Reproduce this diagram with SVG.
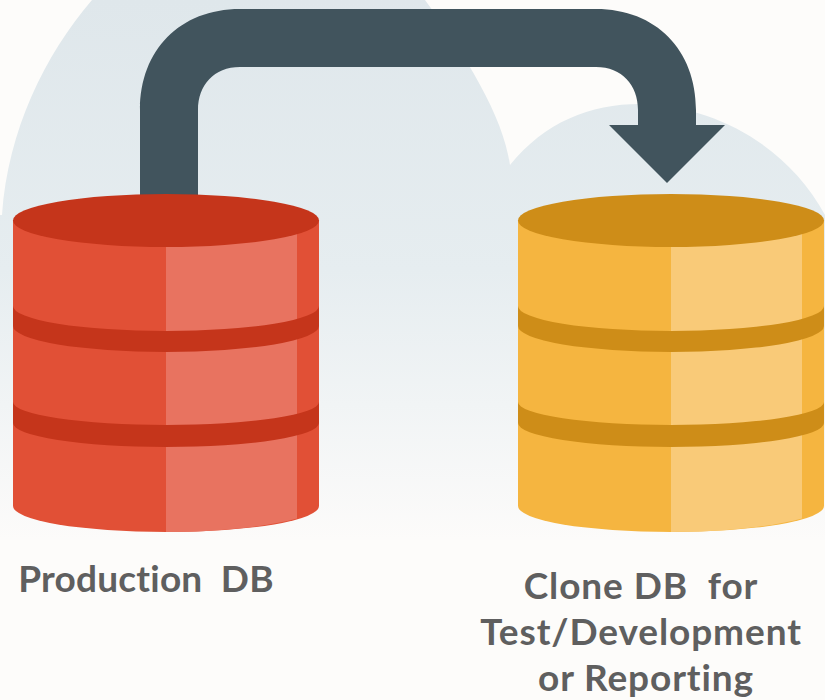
<svg xmlns="http://www.w3.org/2000/svg" width="825" height="700" viewBox="0 0 825 700">
<style>
.lbl{font-family:Lato,"Open Sans","Liberation Sans",sans-serif;font-weight:700;font-size:37px;fill:#5f5f5f;text-anchor:middle;white-space:pre;font-variant-ligatures:none;letter-spacing:.9px}
.r .side{fill:#e15036}.r .light{fill:#e87360}.r .dark{fill:#c5351b}
.y .side{fill:#f5b540}.y .light{fill:#f9ca78}.y .dark{fill:#ce8d18}
</style>
<defs>
<linearGradient id="bg" gradientUnits="userSpaceOnUse" x1="0" y1="0" x2="0" y2="540">
<stop offset="0" stop-color="#dfe7eb"/><stop offset="0.5" stop-color="#e6edf0"/><stop offset="1" stop-color="#fcfbfa"/>
</linearGradient>
</defs>
<rect width="825" height="700" fill="#fdfcfa"/>
<g id="background">
<path fill="url(#bg)" d="M2,215C8,130 45,55 92,0H425C465,55 503,115 510,165C545,122 590,104 640,104C720,106 790,150 825,215V540H0V215Z"/>
</g>
<g id="connectors">
<path fill="#41545d" d="M140,195V110C140,50 180,9 240,9H596C656,9 696,50 696,110V125H725L667,183L609,125H638V110C638,85 622,67 596,67H240C214,67 198,85 198,110V195Z"/>
</g>
<g id="production-db" class="r">
<path class="side" d="M13,220H319V506A153,26 0 0 1 13,506Z"/>
<path class="light" d="M166,225H297V518.500C265,527 220,532 166,532Z"/>
<path class="dark" d="M13,306A153,25 0 0 0 319,306V326A153,26 0 0 1 13,326Z"/>
<path class="dark" d="M13,402A153,23 0 0 0 319,402V423A153,24 0 0 1 13,423Z"/>
<ellipse class="dark" cx="166" cy="220.500" rx="153" ry="26.500"/>
<text class="lbl" x="146" y="592" style="letter-spacing:.2px">Production  DB</text>
</g>
<g id="clone-db" class="y">
<path class="side" d="M518,220H824V506A153,26 0 0 1 518,506Z"/>
<path class="light" d="M671,225H802V518.500C770,527 725,532 671,532Z"/>
<path class="dark" d="M518,306A153,25 0 0 0 824,306V326A153,26 0 0 1 518,326Z"/>
<path class="dark" d="M518,402A153,23 0 0 0 824,402V423A153,24 0 0 1 518,423Z"/>
<ellipse class="dark" cx="671" cy="220.500" rx="153" ry="26.500"/>
<text class="lbl" x="641" y="599">Clone DB  for</text>
<text class="lbl" x="641" y="645">Test/Development</text>
<text class="lbl" x="646" y="691">or Reporting</text>
</g>
</svg>
